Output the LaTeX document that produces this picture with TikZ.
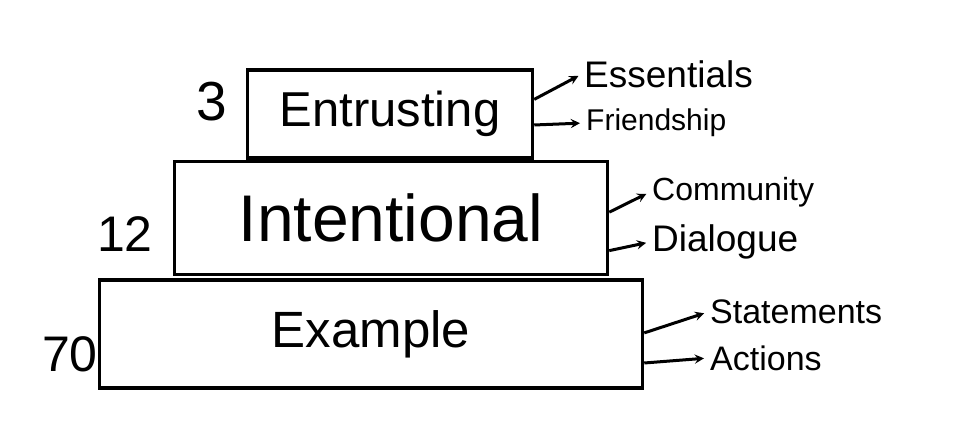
\documentclass[tikz,border=0pt]{standalone}
\usepackage{fontspec}
\setmainfont{Liberation Sans}
\usetikzlibrary{arrows, calc}

\begin{document}
\begin{tikzpicture}[
    x=1pt, y=-1pt,
    tier/.style={rectangle, draw=black, line width=3.5pt, inner sep=0pt},
    count/.style={font=\fontsize{50}{50}\selectfont},
    aim/.style={anchor=west, font=\fontsize{34}{34}\selectfont, inner sep=2pt},
    arrow/.style={->, line width=3pt, >=stealth, shorten >=4pt}
]
\useasboundingbox (0,0) rectangle (958,432);

% tiers
\node[tier, minimum width=285pt, minimum height=88pt, font=\fontsize{49}{49}\selectfont] (trust) at (390,114) {Entrusting};
\node[tier, minimum width=433pt, minimum height=113pt, font=\fontsize{66}{66}\selectfont] (intent) at (391,218) {Intentional};
\node[tier, minimum width=543pt, minimum height=108pt, font=\fontsize{51}{51}\selectfont] (example) at (371,334) {Example};

% counts
\node[count, font=\fontsize{55}{55}\selectfont] (n3) at (212,102) {3};
\node[count] (n12) at (125,234) {12};
\node[count] (n70) at (70,354) {70};

% outcomes
\node[aim, font=\fontsize{37}{37}\selectfont] (ess) at (582,74) {Essentials};
\node[aim, font=\fontsize{30}{30}\selectfont] (friend) at (584,123) {Friendship};
\node[aim, font=\fontsize{32}{32}\selectfont] (comm) at (650,192) {Community};
\node[aim, font=\fontsize{37}{37}\selectfont] (dia) at (650,242) {Dialogue};
\node[aim] (stat) at (708,312) {Statements};
\node[aim] (act) at (708,358) {Actions};

\draw[arrow] ($(trust.north east)!0.34!(trust.south east)$) -- (ess.west);
\draw[arrow] ($(trust.north east)!0.62!(trust.south east)$) -- (friend.west);
\draw[arrow] ($(intent.north east)!0.45!(intent.south east)$) -- (comm.west);
\draw[arrow] ($(intent.north east)!0.78!(intent.south east)$) -- (dia.west);
\draw[arrow] ($(example.north east)!0.49!(example.south east)$) -- (stat.west);
\draw[arrow] ($(example.north east)!0.76!(example.south east)$) -- (act.west);
\end{tikzpicture}
\end{document}
